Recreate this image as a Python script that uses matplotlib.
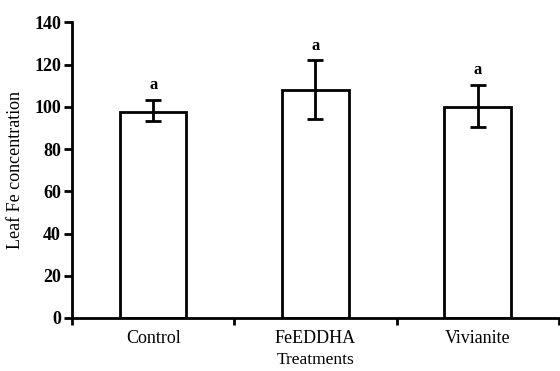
import matplotlib.pyplot as plt
import numpy as np

# values
treatments = ["Control", "FeEDDHA", "Vivianite"]
means = [97.5, 108.2, 100.0]
err_low = [93.3, 94.5, 90.5]
err_high = [103.4, 122.0, 110.5]
letters = ["a", "a", "a"]

plt.rcParams["font.family"] = "Liberation Serif"

x = np.arange(len(treatments))
yerr = [np.array(means) - np.array(err_low), np.array(err_high) - np.array(means)]

fig = plt.figure(figsize=(5.6, 3.71), dpi=100, facecolor="white")
ax = fig.add_axes([0.1286, 0.1429, 0.8694, 0.7965])

ax.bar(x, means, width=0.41, color="white", edgecolor="black", linewidth=2)
ax.errorbar(x, means, yerr=yerr, fmt="none", ecolor="black",
            elinewidth=2, capsize=6, capthick=2)
for xi, top, lab in zip(x, err_high, letters):
    ax.text(xi, top + 3, lab, ha="center", va="bottom",
            fontsize=12, fontweight="bold")

ax.set_xlim(-0.5, 2.5)
ax.set_ylim(0, 140)
ax.set_yticks(range(0, 141, 20))
ax.set_xticks([-0.5, 0.5, 1.5, 2.5])
ax.set_xticklabels([])
ax.set_xticks(x, minor=True)
ax.set_xticklabels(treatments, minor=True, fontsize=13)
ax.tick_params(axis="x", which="minor", length=0, pad=9)
ax.tick_params(axis="x", which="major", length=5, width=2, direction="out")
ax.tick_params(axis="y", length=6, width=2, direction="out", labelsize=13, pad=2)
for t in ax.get_yticklabels():
    t.set_fontweight("bold")

for side in ["top", "right"]:
    ax.spines[side].set_visible(False)
for side in ["left", "bottom"]:
    ax.spines[side].set_linewidth(2)

ax.set_xlabel("Treatments", fontsize=12.5, labelpad=3)
ax.set_ylabel("Leaf Fe concentration", fontsize=13, labelpad=7)

fig.savefig("out.png", dpi=100, facecolor="white")
